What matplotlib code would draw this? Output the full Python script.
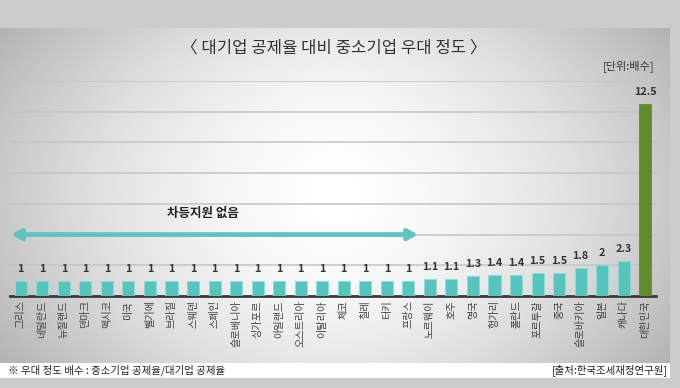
import numpy as np
import matplotlib
matplotlib.use("Agg")
import matplotlib.pyplot as plt

plt.rcParams['font.family'] = ['Noto Sans CJK KR', 'DejaVu Sans']

countries = ["그리스", "네덜란드", "뉴질랜드", "덴마크", "멕시코", "미국", "벨기에", "브라질",
             "스웨덴", "스페인", "슬로베니아", "싱가포르", "아일랜드", "오스트리아", "이탈리아",
             "체코", "칠레", "터키", "프랑스", "노르웨이", "호주", "영국", "헝가리", "폴란드",
             "포르투갈", "중국", "슬로바키아", "일본", "캐나다", "대한민국"]
values = [1, 1, 1, 1, 1, 1, 1, 1, 1, 1, 1, 1, 1, 1, 1, 1, 1, 1, 1,
          1.1, 1.1, 1.3, 1.4, 1.4, 1.5, 1.5, 1.8, 2, 2.3, 12.5]
value_labels = ["1"] * 19 + ["1.1", "1.1", "1.3", "1.4", "1.4", "1.5", "1.5", "1.8", "2", "2.3", "12.5"]

title = "〈 대기업 공제율 대비 중소기업 우대 정도 〉"
unit = "[단위:배수]"
note = "※ 우대 정도 배수 : 중소기업 공제율/대기업 공제율"
source = "[출처:한국조세재정연구원]"
arrow_text = "차등지원 없음"

W, H = 680, 388
fig = plt.figure(figsize=(W / 100, H / 100), dpi=100)
fig.patch.set_facecolor('#cccccc')

# gradient panel
pan = fig.add_axes([0, (H - 363) / H, 670 / W, (363 - 28) / H])
pan.axis('off')
xx, yy = np.meshgrid(np.linspace(-1, 1, 400), np.linspace(-1, 1, 200))
g = 1 - 0.21 * (np.abs(xx) ** 1.6) - 0.09 * (np.abs(yy) ** 2)
g = np.clip(g, 0, 1)
pan.imshow(np.dstack([g, g, g]), aspect='auto', extent=[0, 1, 0, 1], interpolation='bilinear')
pan.set_xlim(0, 1)
pan.set_ylim(0, 1)

# footer white strip
foot = fig.add_axes([0, (H - 378) / H, 670 / W, 15 / H])
foot.set_facecolor('white')
foot.set_xticks([])
foot.set_yticks([])
for s in foot.spines.values():
    s.set_visible(False)
foot.text(0.012, 0.5, note, fontsize=7.5, color='#222222', va='center', ha='left', transform=foot.transAxes)
foot.text(0.997, 0.5, source, fontsize=7.5, color='#222222', va='center', ha='right', transform=foot.transAxes)

# main axes
ax = fig.add_axes([10 / W, (H - 296) / H, 646 / W, (296 - 81) / H])
ax.patch.set_alpha(0)
x = np.arange(len(countries))
colors = ['#55c5be'] * (len(countries) - 1) + ['#5e8b2c']
ax.bar(x, values, width=0.56, color=colors, edgecolor=['#8fdcd6'] * (len(countries) - 1) + ['#5e8b2c'],
       linewidth=0.6, zorder=3)
ax.set_xlim(-0.5, len(countries) - 0.5)
ax.set_ylim(0, 14)
ax.set_yticks(np.arange(0, 15, 2))
ax.yaxis.grid(True, color='#c4c4c4', linewidth=1.1, zorder=0)
ax.set_axisbelow(True)
ax.tick_params(axis='y', left=False, labelleft=False)
ax.tick_params(axis='x', length=0, pad=3)
ax.set_xticks(x)
ax.set_xticklabels(countries, rotation=90, fontsize=7.3, color='#404040')
for s in ['top', 'right', 'left']:
    ax.spines[s].set_visible(False)
ax.spines['bottom'].set_color('#3a3a3a')
ax.spines['bottom'].set_linewidth(2)

for xi, v, lab in zip(x, values, value_labels):
    ax.annotate(lab, (xi, v), xytext=(0, 5), textcoords='offset points', ha='center', va='bottom',
                fontsize=7.8, fontweight='bold', color='#333333', zorder=4)

# arrow
ax.annotate('', xy=(-0.45, 4), xytext=(18.45, 4),
            arrowprops=dict(arrowstyle='<|-|>,head_length=0.55,head_width=0.3', color='#5cc6be', lw=3.4,
                            shrinkA=0, shrinkB=0), zorder=4)
ax.text(8.45, 5.4, arrow_text, ha='center', va='center', fontsize=9, fontweight='bold', color='#222222')

fig.text(334 / W, 1 - 48 / H, title, ha='center', va='center', fontsize=12, color='#333333')
fig.text(655 / W, 1 - 66 / H, unit, ha='right', va='center', fontsize=8, color='#333333')

fig.savefig('out.png', dpi=100, facecolor=fig.get_facecolor())
